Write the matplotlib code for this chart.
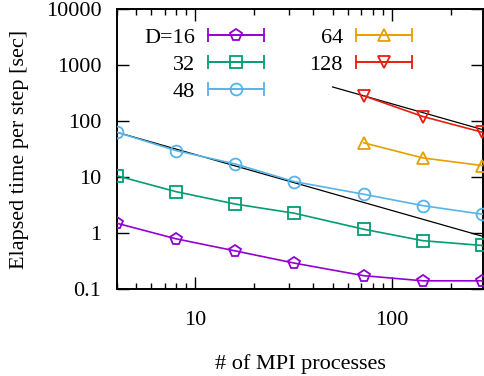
import numpy as np
import matplotlib
matplotlib.use("Agg")
import matplotlib.pyplot as plt
from matplotlib.container import ErrorbarContainer
from matplotlib.legend_handler import HandlerErrorbar
from matplotlib.ticker import FixedLocator, LogLocator, NullFormatter, NullLocator

plt.rcParams['font.family'] = ['Liberation Serif', 'DejaVu Serif']

# number of MPI processes
procs_small = [4, 8, 16, 32, 72, 144, 288]
procs_large = [72, 144, 288]

# elapsed time per step [sec]
t_d16 = [1.50, 0.79, 0.48, 0.29, 0.173, 0.14, 0.14]
t_d32 = [10.6, 5.5, 3.3, 2.26, 1.17, 0.73, 0.60]
t_d48 = [63.5, 29.8, 17.2, 8.3, 4.94, 3.09, 2.17]
t_d64 = [41.0, 22.0, 16.1]
t_d128 = [284.0, 121.0, 63.5]

# ideal scaling guides
ideal48_x = [4, 288]
ideal48_y = [63.5, 0.88]
ideal128_x = [50, 288]
ideal128_y = [409.0, 71.0]

labels = ["D=16", "32", "48", "64", "128"]
colors = ["#9400D3", "#009E73", "#56B4E9", "#E69F00", "#E51E10"]
markers = ["p", "s", "o", "^", "v"]

series = [(procs_small, t_d16), (procs_small, t_d32), (procs_small, t_d48),
          (procs_large, t_d64), (procs_large, t_d128)]

fig = plt.figure(figsize=(4.85, 3.76), dpi=100)
ax = fig.add_axes([0.2406, 0.2314, 0.9966 - 0.2406, 0.9753 - 0.2314])

ax.plot(ideal48_x, ideal48_y, color="black", lw=0.9, zorder=2)
ax.plot(ideal128_x, ideal128_y, color="black", lw=0.9, zorder=2)

handles = []
for (xs, ys), lab, c, m in zip(series, labels, colors, markers):
    ax.plot(xs, ys, color=c, marker=m, ms=8.5, mfc="none", mec=c, mew=1.3,
            lw=1.2, zorder=3)
    h = ax.errorbar([np.nan], [np.nan], xerr=[1], color=c, marker=m, ms=8.5,
                    mfc="none", mec=c, mew=1.3, lw=1.2, capsize=5,
                    elinewidth=1.2, capthick=1.2, label=lab)
    handles.append(h)

ax.set_xscale("log")
ax.set_yscale("log")
ax.set_xlim(4, 292)
ax.set_ylim(0.1, 10000)

ax.xaxis.set_major_locator(FixedLocator([10, 100]))
ax.set_xticklabels(["10", "100"])
ax.xaxis.set_minor_locator(LogLocator(base=10, subs=np.arange(2, 10)))
ax.xaxis.set_minor_formatter(NullFormatter())
ax.yaxis.set_major_locator(FixedLocator([0.1, 1, 10, 100, 1000, 10000]))
ax.set_yticklabels(["0.1", "1", "10", "100", "1000", "10000"])
ax.yaxis.set_minor_locator(NullLocator())

ax.tick_params(which="both", direction="in", top=True, right=True,
               labelsize=16, width=1.0)
ax.tick_params(which="major", length=8.5)
ax.tick_params(which="minor", length=4.5)
ax.tick_params(axis="x", which="major", pad=16)
ax.tick_params(axis="y", which="major", pad=11)
for s in ax.spines.values():
    s.set_linewidth(1.4)

ax.set_xlabel("# of MPI processes", fontsize=16, labelpad=17)
ax.set_ylabel("Elapsed time per step [sec]", fontsize=16, labelpad=12)

hl = 2.5
ax.legend(handles=handles, ncol=2, markerfirst=False, frameon=False,
          loc="upper left", bbox_to_anchor=(0.075, 0.935), fontsize=16,
          handlelength=hl, handletextpad=0.6, columnspacing=2.05,
          labelspacing=0.29, borderpad=0, borderaxespad=0,
          handler_map={ErrorbarContainer: HandlerErrorbar(xerr_size=hl / 2, numpoints=1)})

plt.savefig("out.png", dpi=100)
